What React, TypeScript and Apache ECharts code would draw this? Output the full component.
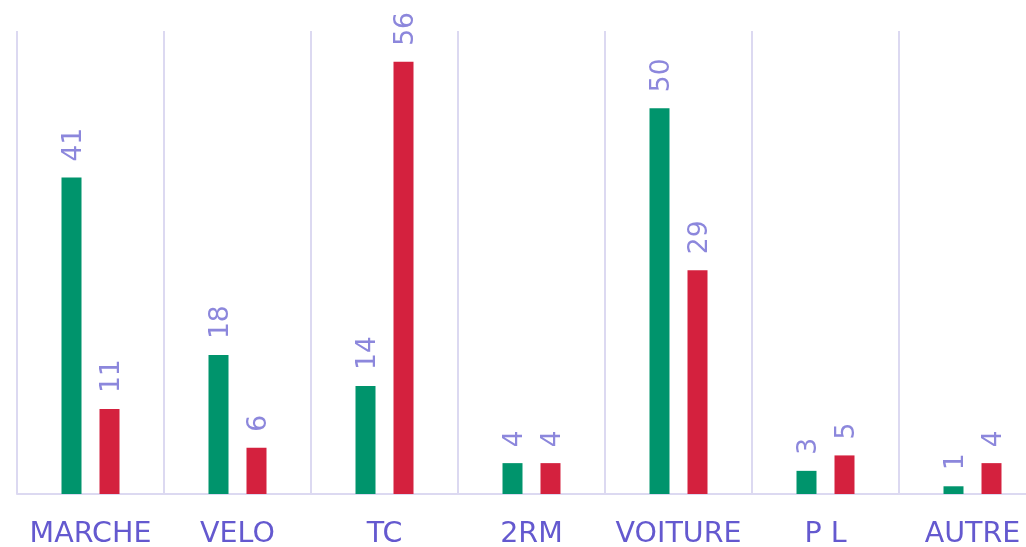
import React, { useEffect, useRef } from "react";
import * as echarts from "echarts";

const categories = ["MARCHE", "VELO", "TC", "2RM", "VOITURE", "P L", "AUTRE"];
const seriesGreen = [41, 18, 14, 4, 50, 3, 1];
const seriesRed = [11, 6, 56, 4, 29, 5, 4];

export default function App() {
  const ref = useRef<HTMLDivElement>(null);
  useEffect(() => {
    if (!ref.current) return;
    const chart = echarts.init(ref.current, undefined, { renderer: "svg" });
    const label = {
      show: true,
      position: "top",
      rotate: 90,
      align: "left",
      verticalAlign: "middle",
      distance: 16,
      color: "#8c87dc",
      fontSize: 26.5,
      fontFamily: "DejaVu Sans",
    };
    chart.setOption({
      animation: false,
      grid: { left: 9, top: 23, right: 22, bottom: 51, containLabel: false },
      xAxis: {
        type: "category",
        data: categories,
        axisLine: { show: true, lineStyle: { color: "#dcd9f1", width: 2 } },
        axisTick: { show: false },
        splitLine: { show: true, lineStyle: { color: "#dcd9f1", width: 2 } },
        axisLabel: {
          color: "#6459cf",
          fontSize: 28.5,
          fontFamily: "DejaVu Sans",
          margin: 24,
          interval: 0,
        },
      },
      yAxis: {
        type: "value",
        min: 0,
        max: 60,
        show: false,
        splitLine: { show: false },
      },
      series: [
        {
          type: "bar",
          data: seriesGreen,
          barWidth: 20,
          barGap: "90%",
          itemStyle: { color: "#00946c" },
          label,
        },
        {
          type: "bar",
          data: seriesRed,
          barWidth: 20,
          barGap: "90%",
          itemStyle: { color: "#d4213e" },
          label,
        },
      ],
    });
    return () => chart.dispose();
  }, []);
  return (
    <div style={{ position: "fixed", left: 8, top: 8, width: 1018, height: 539, overflow: "hidden" }}>
      <div ref={ref} style={{ width: 1060, height: 539 }} />
    </div>
  );
}
